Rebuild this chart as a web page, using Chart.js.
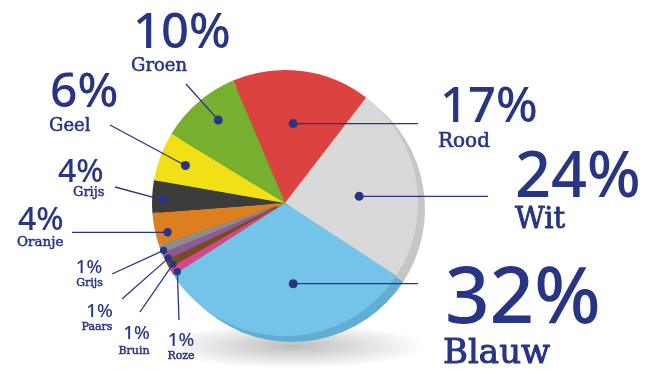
<!DOCTYPE html>
<html>
<head>
<meta charset="utf-8">
<script src="https://cdn.jsdelivr.net/npm/chart.js@4.4.1/dist/chart.umd.min.js"></script>
<style>
  html, body { margin: 0; padding: 0; background: #fff; }
  #wrap { width: 645px; height: 369px; position: relative; }
</style>
</head>
<body>
<div id="wrap"><canvas id="grafico"></canvas></div>
<script>
// kleuren in volgorde (met de klok mee vanaf rood)
const categorieen = ['Rood', 'Wit', 'Blauw', 'Roze', 'Bruin', 'Paars', 'Grijs', 'Oranje', 'Grijs', 'Geel', 'Groen'];
const percentages = [17, 24, 32, 1, 1, 1, 1, 4, 4, 6, 10];
const kleuren = ['#dc4340', '#d9d9d9', '#74c4e9', '#d6468c', '#7b4b20', '#8a5a9c', '#8c8c8c', '#de7f1f', '#3c3c3b', '#f1e016', '#77b02f'];
const randKleuren = ['#b83532', '#c6c6c6', '#62add3', '#b23a74', '#5f3a18', '#6f4880', '#727272', '#b9691a', '#2c2c2b', '#c9bb12', '#5f8f25'];

const navy = '#283583';

// positie van elk label: punt in de taart (frac, da) en eindpunt lijn / tekst
const callouts = [
  { frac: 0.60, da: -1.5, lx: 418, ly: null, nx: 440, ny: 122, ns: 49, tx: 438, ty: 147, ts: 20, align: 'left', dot: 4.5 },
  { frac: 0.56, da: 4.5,  lx: 488, ly: null, nx: 515, ny: 197, ns: 63, tx: 515, ty: 228, ts: 29, align: 'left', dot: 4.5 },
  { frac: 0.61, da: -6,   lx: 418, ly: null, nx: 445, ny: 323, ns: 78, tx: 443, ty: 363, ts: 34, align: 'left', dot: 4.5 },
  { frac: 0.96, da: -1.5, lx: 179, ly: 320, nx: 181, ny: 346, ns: 18.5, tx: 181, ty: 359, ts: 11, align: 'center', dot: 3.6 },
  { frac: 0.96, da: -1.2, lx: 140, ly: 312, nx: 136.5, ny: 339, ns: 18.5, tx: 134, ty: 354, ts: 11, align: 'center', dot: 3.6 },
  { frac: 0.97, da: -1.4, lx: 122, ly: 299, nx: 99.5, ny: 317, ns: 18.5, tx: 97, ty: 330, ts: 11, align: 'center', dot: 3.6 },
  { frac: 0.98, da: -1,   lx: 112, ly: 274, nx: 89, ny: 273, ns: 18.5, tx: 89.5, ty: 286, ts: 11, align: 'center', dot: 3.6 },
  { frac: 0.91, da: -2.6, lx: 72,  ly: null, nx: 18, ny: 230, ns: 32, tx: 17, ty: 246, ts: 13.5, align: 'left', dot: 4.2 },
  { frac: 0.92, da: -1.4, lx: 115, ly: 187, nx: 58, ny: 182, ns: 32, tx: 73, ty: 196, ts: 13, align: 'left', dot: 4.2 },
  { frac: 0.80, da: 0,    lx: 110, ly: 125, nx: 50, ny: 107, ns: 48, tx: 49, ty: 131, ts: 18, align: 'left', dot: 4.5 },
  { frac: 0.80, da: 2,    lx: 186, ly: 84,  nx: 133, ny: 48, ns: 49, tx: 131, ty: 71, ts: 18, align: 'left', dot: 4.5 }
];

// schaduw + 3D rand onder de taart
const randPlugin = {
  id: 'rand',
  beforeDatasetsDraw(chart) {
    const ctx = chart.ctx;
    const arcs = chart.getDatasetMeta(0).data;
    if (!arcs.length) return;
    const { x, y, outerRadius } = arcs[0].getProps(['x', 'y', 'outerRadius'], true);

    ctx.save();
    ctx.translate(x + 8, y + outerRadius + 10);
    ctx.scale(1, 0.17);
    const g = ctx.createRadialGradient(0, 0, 0, 0, 0, outerRadius);
    g.addColorStop(0, 'rgba(0,0,0,0.26)');
    g.addColorStop(0.6, 'rgba(0,0,0,0.10)');
    g.addColorStop(1, 'rgba(0,0,0,0)');
    ctx.fillStyle = g;
    ctx.beginPath();
    ctx.arc(0, 0, outerRadius, 0, Math.PI * 2);
    ctx.fill();
    ctx.restore();

    arcs.forEach((arc, i) => {
      const p = arc.getProps(['x', 'y', 'startAngle', 'endAngle', 'outerRadius'], true);
      ctx.save();
      ctx.translate(7, 6);
      ctx.fillStyle = randKleuren[i];
      ctx.beginPath();
      ctx.moveTo(p.x, p.y);
      ctx.arc(p.x, p.y, p.outerRadius, p.startAngle, p.endAngle);
      ctx.closePath();
      ctx.fill();
      ctx.restore();
    });
  }
};

const labelPlugin = {
  id: 'labels',
  afterDatasetsDraw(chart) {
    const ctx = chart.ctx;
    const arcs = chart.getDatasetMeta(0).data;
    arcs.forEach((arc, i) => {
      const c = callouts[i];
      const p = arc.getProps(['x', 'y', 'startAngle', 'endAngle', 'outerRadius'], true);
      const mid = (p.startAngle + p.endAngle) / 2 + c.da * Math.PI / 180;
      const dx = p.x + Math.cos(mid) * p.outerRadius * c.frac;
      const dy = p.y + Math.sin(mid) * p.outerRadius * c.frac;
      const ly = c.ly === null ? dy : c.ly;

      ctx.save();
      ctx.strokeStyle = navy;
      ctx.lineWidth = 1.3;
      ctx.beginPath();
      ctx.moveTo(dx, dy);
      ctx.lineTo(c.lx, ly);
      ctx.stroke();
      ctx.fillStyle = navy;
      ctx.beginPath();
      ctx.arc(dx, dy, c.dot, 0, Math.PI * 2);
      ctx.fill();

      ctx.textAlign = c.align;
      ctx.textBaseline = 'alphabetic';
      ctx.font = '500 ' + c.ns + 'px "Noto Sans"';
      ctx.fillText(percentages[i] + '%', c.nx, c.ny);
      ctx.font = c.ts + 'px "DejaVu Serif"';
      ctx.lineWidth = Math.max(0.5, c.ts * 0.03);
      ctx.lineJoin = 'round';
      ctx.fillText(categorieen[i], c.tx, c.ty);
      ctx.strokeText(categorieen[i], c.tx, c.ty);
      ctx.restore();
    });
  }
};

new Chart(document.getElementById('grafico'), {
  type: 'pie',
  data: {
    labels: categorieen,
    datasets: [{
      data: percentages,
      backgroundColor: kleuren,
      borderWidth: 0
    }]
  },
  options: {
    responsive: true,
    maintainAspectRatio: false,
    animation: false,
    rotation: -23,
    layout: { padding: { top: 70, bottom: 33, left: 152, right: 227 } },
    plugins: {
      legend: { display: false },
      tooltip: { enabled: false }
    }
  },
  plugins: [randPlugin, labelPlugin]
});
</script>
</body>
</html>
